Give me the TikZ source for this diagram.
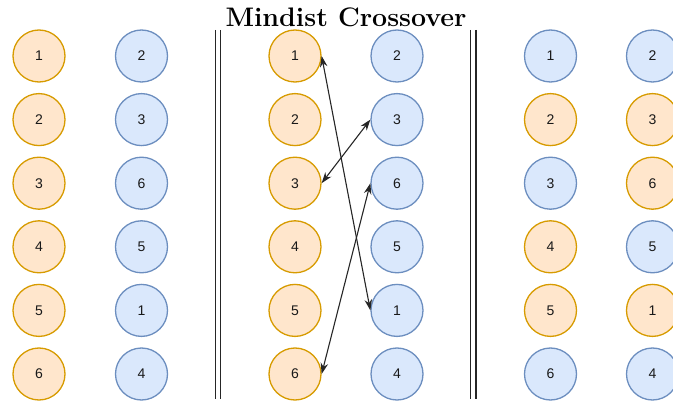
\documentclass[tikz,border=0pt]{standalone}
\usepackage{fontspec}
\newfontfamily\numfont{Liberation Sans}
\usetikzlibrary{arrows.meta}
\definecolor{orfill}{HTML}{FFE6CC}
\definecolor{ordraw}{HTML}{D79B00}
\definecolor{blfill}{HTML}{DAE8FC}
\definecolor{bldraw}{HTML}{6C8EBF}
\tikzset{
  gene/.style={circle, minimum size=52pt, inner sep=0pt, line width=1.3pt,
    font=\numfont\fontsize{14}{16}\selectfont, text=black!90},
  og/.style={gene, draw=ordraw, fill=orfill},
  bg/.style={gene, draw=bldraw, fill=blfill},
  sepline/.style={line width=1.5pt, black!85},
  swaparrow/.style={line width=1.1pt, black!85,
    {Stealth[length=11pt,width=7.5pt]}-{Stealth[length=11pt,width=7.5pt]}},
}
\begin{document}
\begin{tikzpicture}[x=1pt,y=-1pt]
  \useasboundingbox (0,0) rectangle (673,401);
  \clip (0,0) rectangle (673,401);
  % title
  \node[font=\bfseries\fontsize{26.8}{32}\selectfont] (title) at (346,17) {Mindist Crossover};
  % separators
  \coordinate (s1t) at (215.7,30);  \coordinate (s1b) at (215.7,399);
  \coordinate (s2t) at (220.7,30);  \coordinate (s2b) at (220.7,399);
  \coordinate (s3t) at (470.7,30);  \coordinate (s3b) at (470.7,399);
  \coordinate (s4t) at (475.9,30);  \coordinate (s4b) at (475.9,399);
  \draw[sepline] (s1t) -- (s1b);
  \draw[sepline] (s2t) -- (s2b);
  \draw[sepline] (s3t) -- (s3b);
  \draw[sepline] (s4t) -- (s4b);
  % parents, before and in the middle panel
  \foreach \grp/\xa/\xb in {l/39/141.5, m/295/397} {
    \foreach \i/\v in {1/2,2/3,3/6,4/5,5/1,6/4} {
      \node[og] (\grp a\i) at (\xa,{56+(\i-1)*63.6}) {\i};
      \node[bg] (\grp b\i) at (\xb,{56+(\i-1)*63.6}) {\v};
    }
  }
  % offspring
  \foreach \i/\sa/\v/\sb in {1/bg/2/bg, 2/og/3/og, 3/bg/6/og, 4/og/5/bg, 5/og/1/og, 6/bg/4/bg} {
    \node[\sa] (ra\i) at (550.5,{56+(\i-1)*63.6}) {\i};
    \node[\sb] (rb\i) at (652.5,{56+(\i-1)*63.6}) {\v};
  }
  % exchanges
  \draw[swaparrow] (ma1.east) -- (mb5.west);
  \draw[swaparrow] (ma3.east) -- (mb2.west);
  \draw[swaparrow] (ma6.east) -- (mb3.west);
\end{tikzpicture}
\end{document}
